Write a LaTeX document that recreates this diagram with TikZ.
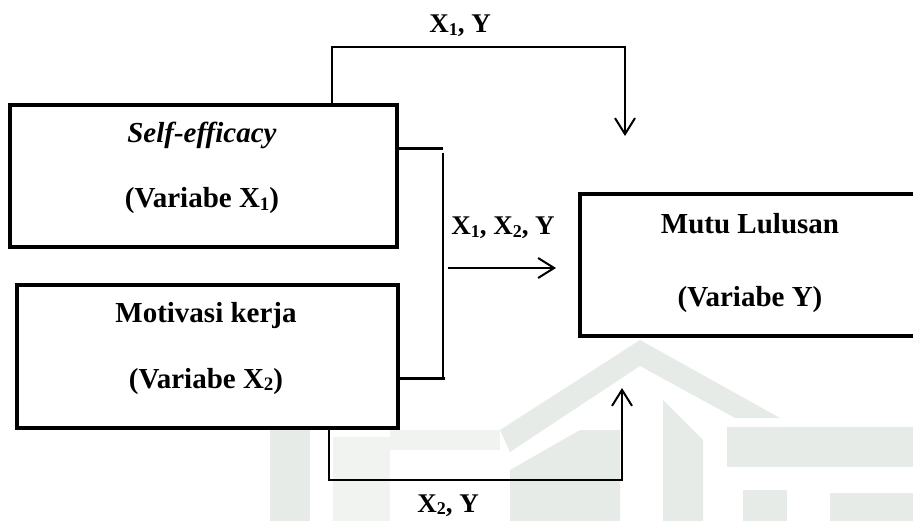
\documentclass[tikz,border=0pt]{standalone}
\usepackage{fontspec}
\setmainfont{Liberation Serif}
\usetikzlibrary{arrows.meta,calc}
\newcommand\mysub[1]{\raisebox{-0.2ex}{\fontsize{19}{19}\selectfont #1}}
\newcommand\mysubs[1]{\raisebox{-0.2ex}{\fontsize{18}{18}\selectfont #1}}
\definecolor{wm}{RGB}{231,235,231}
\definecolor{wml}{RGB}{240,243,240}
\begin{document}
\begin{tikzpicture}[x=1pt,y=-1pt,
  box/.style={draw,line width=4pt,inner sep=0pt},
  txt/.style={font=\fontsize{29}{29}\selectfont\bfseries,inner sep=0pt,anchor=base},
  lab/.style={font=\fontsize{27}{27}\selectfont\bfseries,inner sep=0pt,anchor=base},
  conn/.style={line width=2pt},
  stub/.style={line width=3pt},
  thin/.style={line width=1.5pt},
  arr/.style={conn,-{Straight Barb[length=16pt,width=20pt,line width=2pt]}}]
\useasboundingbox (0,0) rectangle (913,521);
\clip (0,0) rectangle (913,521);
% faint watermark
\fill[wml] (390,430) rectangle (500,450);
\fill[wml] (333,437) rectangle (390,521);
\fill[wm] (270,430) rectangle (310,521);
\fill[wm] (500,430) -- (640,340) -- (780,418) -- (735,418) -- (640,366) -- (510,452) -- cycle;
\fill[wm] (727,427) rectangle (913,467);
\fill[wm] (510,521) -- (510,470) -- (580,430) -- (620,430) -- (620,521) -- cycle;
\fill[wm] (663,400) -- (703,440) -- (703,521) -- (663,521) -- cycle;
\fill[wm] (743,490) rectangle (787,521);
\fill[wm] (830,493) rectangle (913,521);
% boxes
\node[box,fill=white,minimum width=387pt,minimum height=142pt] (b1) at (203.5,176) {};
\node[box,fill=white,minimum width=381pt,minimum height=143pt] (b2) at (207.5,356.5) {};
\node[box,fill=white,minimum width=360pt,minimum height=142pt] (bY) at (760,265) {};
% texts
\node[txt] (t1a) at (202,143) {\textit{Self-efficacy}};
\node[txt] (t1b) at (202,208) {(Variabe X\mysub{1})};
\node[txt] (t2a) at (206,323) {Motivasi kerja};
\node[txt] (t2b) at (206,388) {(Variabe X\mysub{2})};
\node[txt] (tYa) at (750,234) {Mutu Lulusan};
\node[txt] (tYb) at (750,307) {(Variabe Y)};
% labels
\node[lab] (l1) at (460,33) {X\mysubs{1}, Y};
\node[lab] (l2) at (503,235) {X\mysubs{1}, X\mysubs{2}, Y};
\node[lab] (l3) at (448,512) {X\mysubs{2}, Y};
% coordinates
\coordinate (topL) at (332,47);
\coordinate (topR) at (625,136);
\coordinate (botL) at (329,480);
\coordinate (botR) at (622,388);
\coordinate (s1) at (443,149);
\coordinate (s2) at (445,378);
\coordinate (v1) at (443,153);
\coordinate (v2) at (443,378);
\coordinate (mA) at (448,268);
% connectors
\draw[arr] (b1.north -| topL) -- (topL) -| (topR);
\draw[arr] (b2.south -| botL) -- (botL) -| (botR);
\draw[stub] (b1.east |- s1) -- (s1);
\draw[stub] (b2.east |- s2) -- (s2);
\draw[thin] (v1) -- (v2);
\draw[arr,shorten >=22pt] (mA) -- (mA -| bY.west);
\end{tikzpicture}
\end{document}
